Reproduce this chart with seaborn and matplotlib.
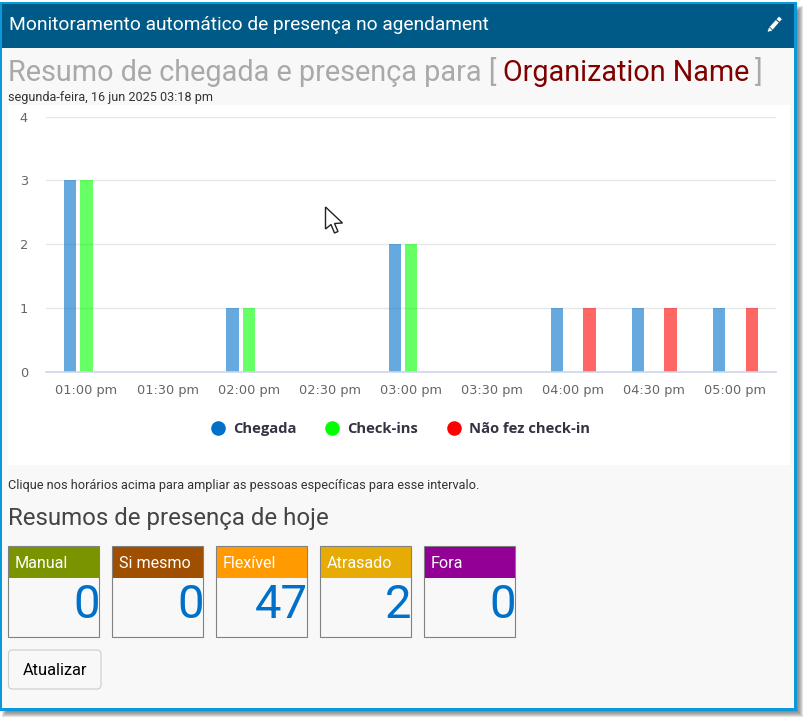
import matplotlib
matplotlib.use("Agg")
import matplotlib.pyplot as plt
from matplotlib.patches import Rectangle, FancyBboxPatch, Polygon
from matplotlib.lines import Line2D
import pandas as pd
import seaborn as sns

times = ["01:00 pm", "01:30 pm", "02:00 pm", "02:30 pm", "03:00 pm", "03:30 pm", "04:00 pm", "04:30 pm", "05:00 pm"]
chegada = [3, 0, 1, 0, 2, 0, 1, 1, 1]
checkins = [3, 0, 1, 0, 2, 0, 0, 0, 0]
nao_fez = [0, 0, 0, 0, 0, 0, 1, 1, 1]
series_names = ["Chegada", "Check-ins", "Não fez check-in"]
series_colors = ["#0070c8", "#00ff00", "#ff0000"]
tile_labels = ["Manual", "Si mesmo", "Flexível", "Atrasado", "Fora"]
tile_values = [0, 0, 47, 2, 0]
tile_colors = ["#7a9400", "#a04f00", "#ff9a00", "#e6ac05", "#930096"]

W, H = 811, 724
sns.set_theme(style="white")
plt.rcParams["font.family"] = ["Roboto", "DejaVu Sans"]
fig = plt.figure(figsize=(W / 100, H / 100), dpi=100, facecolor="white")


def pixel_axes(z):
    a = fig.add_axes([0, 0, 1, 1], zorder=z)
    a.set_xlim(0, W)
    a.set_ylim(H, 0)
    a.axis("off")
    a.patch.set_alpha(0)
    return a


bg = pixel_axes(0)
# soft shadow, panel, header
for grow in range(6, -1, -1):
    bg.add_patch(Rectangle((8 - grow, 12 - grow), 789 + 2 * grow, 699 + 2 * grow,
                           fc="#555555", ec="none", alpha=0.16))
bg.add_patch(Rectangle((0, 2), 797, 709, fc="#0a9ada", ec="none"))
bg.add_patch(Rectangle((2, 4), 792, 704, fc="#f8f8f8", ec="none"))
bg.add_patch(Rectangle((2, 4), 792, 44, fc="#005a87", ec="none"))
bg.add_patch(Rectangle((8, 105), 782, 360, fc="white", ec="none"))
bg.text(9, 24.5, "Monitoramento automático de presença no agendament", color="white",
        fontsize=13.75, va="center", ha="left")
bg.text(8, 81, "Resumo de chegada e presença para [", color="#a9a9a9", fontsize=20.8, va="baseline")
bg.text(503, 81, "Organization Name", color="#800000", fontsize=20.7, va="baseline")
bg.text(755, 81, "]", color="#a9a9a9", fontsize=20.8, va="baseline")
bg.text(8, 98, "segunda-feira, 16 jun 2025 03:18 pm", color="#333333", fontsize=9.1, va="center")
bg.text(8, 485, "Clique nos horários acima para ampliar as pessoas específicas para esse intervalo.",
        color="#333333", fontsize=9.15, va="center")
bg.text(8, 519, "Resumos de presença de hoje", color="#444444", fontsize=17.3, va="center")

for i, (lab, val, col) in enumerate(zip(tile_labels, tile_values, tile_colors)):
    x0 = 8 + 104 * i
    bg.add_patch(Rectangle((x0, 546), 91, 91, fc="#f8f8f8", ec="#808080", lw=0.8))
    bg.add_patch(Rectangle((x0 + .5, 546.5), 90, 31.5, fc=col, ec="none"))
    bg.text(x0 + 7, 563, lab, color="white", fontsize=11.6, va="center")
    bg.text(x0 + 91.5, 605.5, str(val), color="#0070c8", fontsize=34, va="center", ha="right")

bg.add_patch(FancyBboxPatch((11.5, 653), 86.5, 33, boxstyle="round,pad=3,rounding_size=4",
                            fc="#f8f8f8", ec="#cccccc", lw=0.8))
bg.text(55, 670.5, "Atualizar", color="black", fontsize=11.8, va="center", ha="center")

# chart
ax = fig.add_axes([46 / W, 1 - 372 / H, 730 / W, 255.5 / H], zorder=1)
ax.patch.set_alpha(0)
df = pd.DataFrame({"time": times * 3,
                   "serie": sum([[n] * len(times) for n in series_names], []),
                   "value": chegada + checkins + nao_fez})
sns.barplot(data=df, x="time", y="value", hue="serie", palette=series_colors, order=times,
            hue_order=series_names, width=0.6, gap=0.25, saturation=1, alpha=0.6,
            ax=ax, legend=False, linewidth=0)
ax.set_xlim(-0.5, 8.5)
ax.set_ylim(0, 4)
ax.set_yticks([0, 1, 2, 3, 4])
ax.set_xlabel("")
ax.set_ylabel("")
ax.grid(axis="y", color="#e6e6e6", lw=1)
ax.set_axisbelow(True)
for s in ["top", "left", "right"]:
    ax.spines[s].set_visible(False)
ax.spines["bottom"].set_color("#ccd6eb")
ax.spines["bottom"].set_linewidth(1.2)
ax.tick_params(axis="x", length=0, pad=8.3, labelsize=9.3, labelcolor="#666666")
ax.tick_params(axis="y", length=0, pad=13, labelsize=9.3, labelcolor="#666666")
for t in ax.get_xticklabels() + ax.get_yticklabels():
    t.set_fontfamily("DejaVu Sans")

handles = [Line2D([], [], ls="", marker="o", ms=10.5, color=c, mew=0) for c in series_colors]
leg = ax.legend(handles, series_names, loc="center", bbox_to_anchor=(397.5, 429),
                bbox_transform=bg.transData, ncol=3, frameon=False, handletextpad=0.2,
                columnspacing=1.55, handlelength=1.7,
                prop={"family": "Open Sans", "weight": "bold", "size": 10.6})
for t in leg.get_texts():
    t.set_color("#333344")

# mouse cursor and pencil icon
top = pixel_axes(3)
top.add_patch(Polygon([(325.5, 207), (325.5, 229), (331, 224.5), (334.5, 233), (338, 231.5),
                       (334.5, 223.5), (342.5, 223)], closed=True, fc="white", ec="#222222", lw=1))
top.add_patch(Polygon([(779, 16), (782.5, 19), (772, 31), (767, 32.5), (768.5, 27.5)], closed=True,
                      fc="white", ec="#005a87", lw=0.6))
top.add_line(Line2D([776, 779.5], [19.5, 22.5], color="#005a87", lw=0.8))
top.add_line(Line2D([769.5, 772.5], [27, 30], color="#005a87", lw=0.6))

fig.savefig("out.png", dpi=100, facecolor="white")
